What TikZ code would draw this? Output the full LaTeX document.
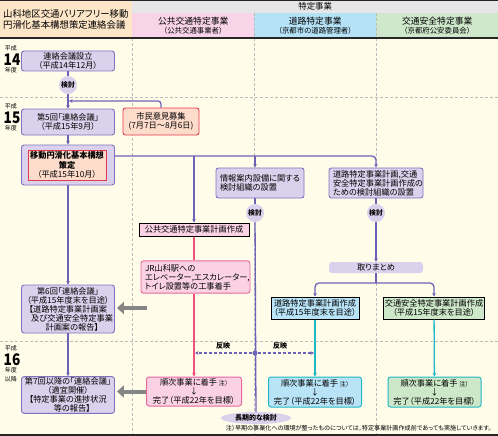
\documentclass[tikz,border=0pt]{standalone}
\usepackage{fontspec}
\usepackage{graphicx}
\setmainfont{Noto Sans CJK JP}[RawFeature=+palt]
\usetikzlibrary{positioning,arrows.meta,shapes.geometric,calc}

\definecolor{cream}{HTML}{FFFDEA}
\definecolor{hdrgray}{HTML}{E6E6E6}
\definecolor{peach}{HTML}{FDE5C8}
\definecolor{pinkhdr}{HTML}{F9D3E7}
\definecolor{bluehdr}{HTML}{B5E2F7}
\definecolor{greenhdr}{HTML}{CFE8CC}
\definecolor{boxfill}{HTML}{DAD2EC}
\definecolor{boxline}{HTML}{7F72BE}
\definecolor{flowc}{HTML}{6C62B8}
\definecolor{pinkfill}{HTML}{FAD2E4}
\definecolor{pinkline}{HTML}{E8689E}
\definecolor{redc}{HTML}{F0507E}
\definecolor{innerfill}{HTML}{FDDCCB}
\definecolor{innerline}{HTML}{E83850}
\definecolor{cyanc}{HTML}{1FB8C6}
\definecolor{lblue}{HTML}{B9E4F8}
\definecolor{lgreen}{HTML}{CDE8C9}
\definecolor{arrgray}{HTML}{858585}
\definecolor{dashgray}{HTML}{BDBDBD}

\begin{document}
\begin{tikzpicture}[
    x=1pt, y=-1pt,
    font=\fontsize{8.2}{9}\selectfont,
    cell/.style={anchor=north west, inner sep=0pt, align=center},
    pbox/.style={draw=boxline, fill=boxfill, line width=0.9pt, rounded corners=2.5pt, align=center, minimum width=93pt, inner sep=1pt},
    kento/.style={circle, fill=boxfill, minimum size=18pt, inner sep=0pt, font=\fontsize{6.8}{7}\selectfont\bfseries},
    plan/.style={draw=black, line width=1pt, align=center, inner sep=1pt},
    doing/.style={line width=1pt, rounded corners=2.5pt, align=center, minimum width=93pt, minimum height=30pt, inner sep=1pt},
    flow/.style={draw=flowc, line width=1.3pt},
    arr/.style={-{Stealth[length=3.5pt,width=3.5pt]}},
    big/.style={line width=4pt, draw=arrgray, -{Triangle[length=7pt,width=12pt]}, shorten >=2pt},
    divide/.style={dashgray, line width=0.6pt, dash pattern=on 3pt off 2pt},
    yr/.style={font=\fontsize{6}{6.5}\selectfont, inner sep=0pt, text height=5pt, text depth=0.8pt},
    yrnum/.style={font=\fontsize{16}{16}\selectfont\bfseries, inner sep=0pt, text height=11.5pt, text depth=0pt}
]

\useasboundingbox (0,0) rectangle (498,436);
\fill[cream] (0,0) rectangle (498,436);

% Header
\node[cell, fill=peach, minimum width=132pt, minimum height=38pt, text width=126pt, inner xsep=3pt, align=left, font=\fontsize{9.4}{11}\selectfont] (hdr) at (0,0) {山科地区交通バリアフリー移動\\円滑化基本構想策定連絡会議};
\node[cell, fill=hdrgray, minimum width=366pt, minimum height=13pt, font=\fontsize{8.4}{9}\selectfont] (hdrtop) at (132,0) {特定事業};
\node[cell, fill=pinkhdr, minimum width=122pt, minimum height=25pt] (hdrp) at (132,13) {{\fontsize{8.8}{9.8}\selectfont 公共交通特定事業}\\{\fontsize{7.4}{8.5}\selectfont （公共交通事業者）}};
\node[cell, fill=bluehdr, minimum width=122pt, minimum height=25pt] (hdrb) at (254,13) {{\fontsize{8.8}{9.8}\selectfont 道路特定事業}\\{\fontsize{7.4}{8.5}\selectfont （京都市の道路管理者）}};
\node[cell, fill=greenhdr, minimum width=122pt, minimum height=25pt] (hdrg) at (376,13) {{\fontsize{8.8}{9.8}\selectfont 交通安全特定事業}\\{\fontsize{7.4}{8.5}\selectfont （京都府公安委員会）}};

% Dividers
\draw[divide] (132,38) -- (132,436);
\draw[divide] (254,13) -- (254,436);
\draw[divide] (376,13) -- (376,436);
\draw[divide] (0,97) -- (498,97);
\draw[divide] (0,341) -- (498,341);
\draw[line width=1.2pt, black!85] (0,0.6) -- (498,0.6);
\draw[line width=1.2pt, black!85] (0,38) -- (498,38);
\draw[line width=1.5pt, black!85] (0,435) -- (498,435);

% Years
\node[yr] (y14a) at (11,48) {平成};
\node[yrnum] (y14) at (12,59.5) {\scalebox{0.85}[1]{14}};
\node[yr] (y14b) at (11,70.5) {年度};
\node[yr] (y15a) at (11,106) {平成};
\node[yrnum] (y15) at (12,117.5) {\scalebox{0.85}[1]{15}};
\node[yr] (y15b) at (11,128.5) {年度};
\node[yr] (y16a) at (11,348) {平成};
\node[yrnum] (y16) at (12,359.5) {\scalebox{0.85}[1]{16}};
\node[yr] (y16b) at (11,370.5) {年度};
\node[yr] (y16c) at (11,379) {以降};

% Nodes
\node[pbox, minimum height=20pt] (b14) at (68,61) {連絡会議設立\\（平成14年12月）};
\node[kento] (k14) at (68,85) {検討};
\node[pbox, minimum height=26pt] (b15a) at (68,122) {第5回「連絡会議」\\（平成15年9月）};
\node[draw=innerline, fill=innerfill, line width=0.9pt, rounded corners=2.5pt, minimum width=76pt, minimum height=27pt, align=center, inner sep=1pt] (civ) at (161,121.5) {市民意見募集\\(7月7日～8月6日)};
\node[pbox, minimum height=40pt] (b15b) at (68,165) {};
\node[draw=innerline, fill=innerfill, line width=0.9pt, minimum width=78pt, minimum height=30pt, align=center, inner sep=1pt, font=\fontsize{8.2}{9.6}\selectfont] (b15in) at (67,165) {\bfseries 移動円滑化基本構想\\\bfseries 策定\\（平成15年10月）};
\node[pbox, minimum height=48pt] (b15c) at (68,309) {第6回「連絡会議」\\（平成15年度末を目途）\\【道路特定事業計画案\\　及び交通安全特定事業\\　計画案の報告】};
\node[pbox, minimum height=36pt] (b16) at (68,395) {第7回以降の「連絡会議」\\（適宜開催）\\【特定事業の進捗状況\\　等の報告】};

\node[plan, fill=pinkfill, minimum width=110pt, minimum height=13pt] (plan1) at (194,229.5) {公共交通特定事業計画作成};
\node[draw=pinkline, fill=pinkfill, line width=0.9pt, rounded corners=2.5pt, minimum height=28pt, text width=101pt, inner xsep=4pt, align=left] (jr) at (195.5,277) {JR山科駅への\\エレベーター,エスカレーター,\\トイレ設置等の工事着手};
\node[doing, draw=pinkline, fill=pinkfill, minimum width=95pt, minimum height=29pt] (do1) at (194,391.5) {順次事業に着手 {\fontsize{6}{7}\selectfont 注）}\\↓\\完了（平成22年を目標）};

\node[pbox, minimum height=30pt, minimum width=0pt, text width=80pt, inner xsep=4pt, align=left] (info) at (260,183) {情報案内設備に関する\\検討組織の設置};
\node[kento] (kA) at (255,213) {検討};
\node[ellipse, fill=boxfill, minimum width=70pt, minimum height=12pt, inner sep=0pt, font=\fontsize{7}{7}\selectfont\bfseries] (lt) at (256,418) {長期的な検討};

\node[pbox, minimum height=30pt, minimum width=0pt, text width=86pt, inner xsep=4pt, align=left] (road) at (376,183) {道路特定事業計画,交通\\安全特定事業計画作成の\\ための検討組織の設置};
\node[kento] (kB) at (376,213) {検討};
\node[fill=boxfill, rounded corners=3pt, minimum width=94pt, minimum height=11pt, inner sep=0pt] (tori) at (376,267.5) {取りまとめ};
\node[plan, fill=lblue, minimum width=88pt, minimum height=22pt] (plan2) at (315,308) {道路特定事業計画作成\\（平成15年度末を目途）};
\node[plan, fill=lgreen, minimum width=100pt, minimum height=22pt] (plan3) at (434,308) {交通安全特定事業計画作成\\（平成15年度末を目途）};
\node[doing, draw=cyanc, fill=lblue] (do2) at (315,392) {順次事業に着手 {\fontsize{6}{7}\selectfont 注）}\\↓\\完了（平成22年を目標）};
\node[doing, draw=cyanc, fill=lgreen] (do3) at (434.5,392) {順次事業に着手 {\fontsize{6}{7}\selectfont 注）}\\↓\\完了（平成22年を目標）};

\node[anchor=east, font=\fontsize{6.1}{7}\selectfont] (note) at (495,428) {注）早期の事業化への環境が整ったものについては，特定事業計画作成前であっても実施していきます。};

% Arrows
\coordinate (civin) at (69,101);
\coordinate (bus) at (115,156);
\coordinate (split) at (376,283);
\coordinate (g1) at (147,308);

\draw[flow] (b14) -- (k14);
\draw[flow, arr] (k14) -- (b15a);
\draw[flow, arr, rounded corners=3pt] (civ.north) |- (civin);
\draw[flow, arr] (b15a) -- (b15b);
\draw[flow, arr] (b15b) -- (b15c);
\draw[flow, arr] (b15c) -- (b16);

\draw[flow, arr, rounded corners=4pt] (bus) -| (road.north);
\draw[flow, arr] (plan1.north |- bus) -- (plan1.north);
\draw[flow, arr] (kA |- bus) -- (kA |- info.north);
\draw[flow] (kA |- info.south) -- (kA);
\draw[flow] (kA) -- (lt);
\draw[flow] (road) -- (kB);
\draw[flow, arr] (kB) -- (tori);
\draw[flow] (tori) -- (split);
\draw[flow, arr, rounded corners=4pt] (split) -| (plan2.north);
\draw[flow, arr, rounded corners=4pt] (split) -| (plan3.north);

\draw[redc, line width=1.3pt] (plan1) -- (plan1 |- jr.north);
\draw[redc, line width=1.3pt, arr] (plan1 |- jr.south) -- (do1);
\draw[cyanc, line width=1.3pt, arr] (plan2) -- (do2);
\draw[cyanc, line width=1.3pt, arr] (plan3) -- (do3);

\node[circle, fill=flowc, minimum size=5pt, inner sep=0pt] (dot) at (255,353) {};
\draw[flow, dash pattern=on 3pt off 2pt, arr, shorten >=1pt] (dot) -- (do1.north |- dot);
\draw[flow, dash pattern=on 3pt off 2pt, arr, shorten >=1pt] (dot) -- (do2.north |- dot);
\node[font=\fontsize{7}{7}\selectfont\bfseries] (ref1) at (223,346) {反映};
\node[font=\fontsize{7}{7}\selectfont\bfseries] (ref2) at (280,346) {反映};

\draw[big] (g1) -- (b15c.east |- g1);
\draw[big] (do1.west) -- (b16.east |- do1.west);

\end{tikzpicture}
\end{document}
